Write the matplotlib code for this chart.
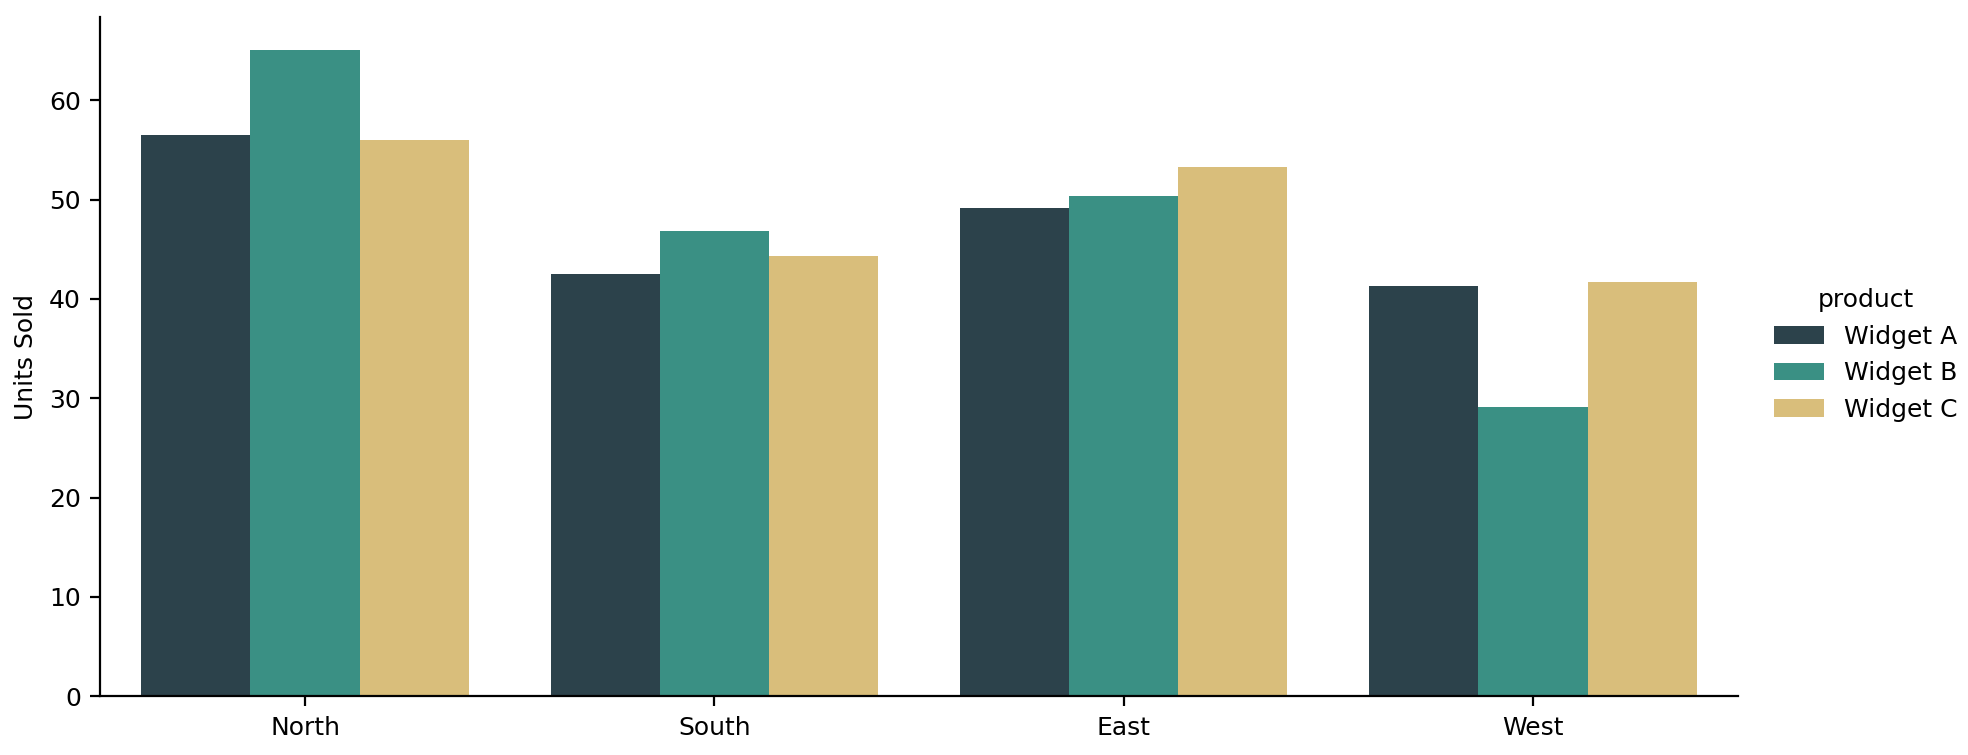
import matplotlib
matplotlib.use("Agg")
import matplotlib.pyplot as plt
import numpy as np

regions = ["North", "South", "East", "West"]
products = ["Widget A", "Widget B", "Widget C"]
values = {
    "Widget A": [56.5, 42.5, 49.2, 41.3],
    "Widget B": [65.1, 46.8, 50.4, 29.1],
    "Widget C": [56.0, 44.3, 53.3, 41.7],
}
colors = ["#2c424b", "#3a9084", "#d9be7b"]

fig, ax = plt.subplots(figsize=(9.84, 3.775), dpi=200)
fig.subplots_adjust(left=0.051, right=0.883, top=0.977, bottom=0.078)
x = np.arange(len(regions))
w = 0.8 / 3
for i, p in enumerate(products):
    ax.bar(x + (i - 1) * w, values[p], w, color=colors[i], label=p)
ax.set_xticks(x)
ax.set_xticklabels(regions)
ax.set_xlim(-0.5, 3.5)
ax.set_ylabel("Units Sold")
ax.set_xlabel("")
ax.spines["top"].set_visible(False)
ax.spines["right"].set_visible(False)
ax.tick_params(labelsize=9)
ax.yaxis.label.set_size(9)
leg = fig.legend(title="product", loc="center left", bbox_to_anchor=(0.89, 0.53),
                 frameon=False, fontsize=9, title_fontsize=9)
fig.savefig("out.png", dpi=200)
